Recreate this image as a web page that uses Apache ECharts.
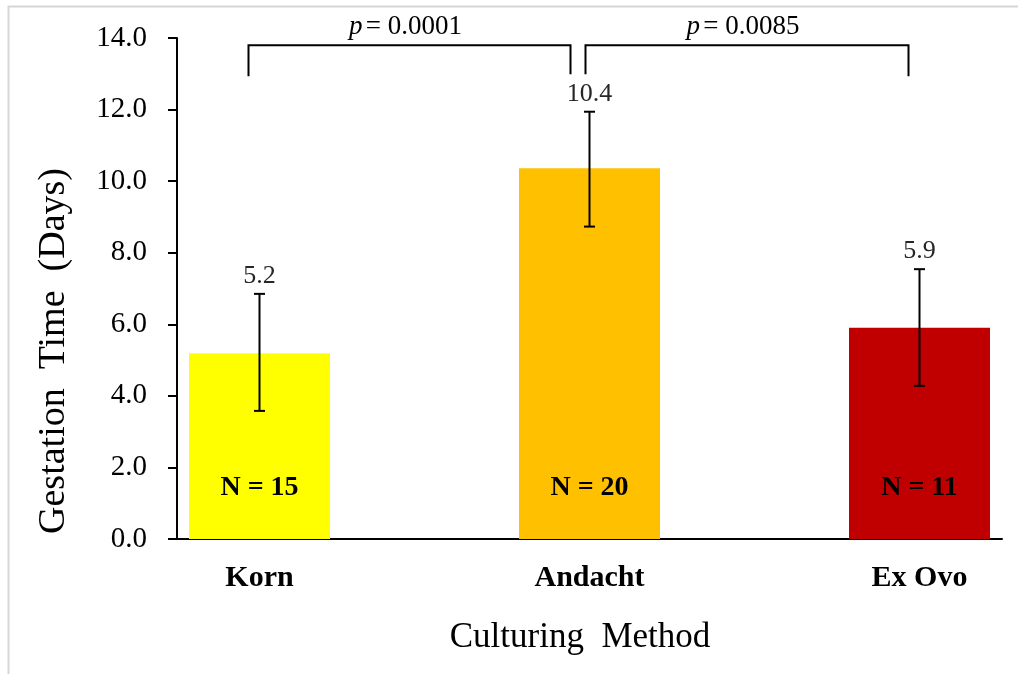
<!DOCTYPE html>
<html><head><meta charset="utf-8">
<script src="https://cdn.jsdelivr.net/npm/echarts@6/dist/echarts.min.js"></script>
<style>html,body{margin:0;padding:0;background:#fff}#c{width:1018px;height:674px}</style>
</head><body><div id="c"></div>
<script>
// ---- data ----
const categories = ['Korn', 'Andacht', 'Ex Ovo'];
const meanValues = [5.19, 10.36, 5.9];
const errorLow = [3.58, 8.73, 4.28];
const errorHigh = [6.85, 11.94, 7.54];
const sampleSizes = [15, 20, 11];
const comparisons = [[0, 1], [1, 2]];
const pValues = ['0.0001', '0.0085'];
const yMin = 0, yMax = 14, yStep = 2;

// ---- styling ----
const barColors = ['#FFFF00', '#FFC000', '#C00000'];
const FONT = '"Liberation Serif", "Times New Roman", serif';
const bracketLevel = 13.8;
const bracketInset = [[-11, -19], [-4, -11]];
const bracketDrop = [[31, 29], [29, 31]];

const chart = echarts.init(document.getElementById('c'), null, {renderer: 'canvas'});

const option = {
  backgroundColor: '#fff',
  animation: false,
  grid: {left: 177, top: 38, width: 825, height: 501, containLabel: false},
  xAxis: {
    type: 'value', min: -0.25, max: 2.25,
    axisLine: {show: true, onZero: false, lineStyle: {color: '#000', width: 2}},
    axisTick: {show: false},
    splitLine: {show: false},
    axisLabel: {
      show: true,
      customValues: categories.map((c, i) => i),
      formatter: v => categories[Math.round(v)] || '',
      fontFamily: FONT, fontSize: 30, fontWeight: 'bold', color: '#000', margin: 24
    }
  },
  yAxis: {
    type: 'value', min: yMin, max: yMax, interval: yStep,
    axisLine: {show: true, onZero: false, lineStyle: {color: '#000', width: 2}},
    axisTick: {show: true, length: 9, lineStyle: {color: '#000', width: 2}},
    splitLine: {show: false},
    axisLabel: {
      formatter: v => v.toFixed(1),
      fontFamily: FONT, fontSize: 29, color: '#000', margin: 30
    }
  },
  graphic: [
    {type: 'rect', shape: {x: 8.5, y: 6.5, width: 1200, height: 1000}, style: {fill: null, stroke: '#d6d6d6', lineWidth: 2}, z: -10, silent: true},
    {type: 'text', x: 580, y: 638, style: {text: 'Culturing  Method', font: '35px ' + FONT, fill: '#000', align: 'center', verticalAlign: 'middle'}},
    {type: 'text', x: 54, y: 351, rotation: Math.PI / 2, style: {text: 'Gestation  Time  (Days)', font: '38px ' + FONT, fill: '#000', align: 'center', verticalAlign: 'middle'}}
  ],
  series: [
    {
      type: 'bar',
      barWidth: 141,
      data: meanValues.map((v, i) => ({value: [i, v], itemStyle: {color: barColors[i]}})),
      label: {
        show: true, position: 'insideBottom', distance: 37,
        formatter: p => 'N = ' + sampleSizes[p.dataIndex],
        fontFamily: FONT, fontSize: 28, fontWeight: 'bold', color: '#000'
      },
      z: 2
    },
    {
      type: 'custom',
      data: categories.map((c, i) => [i, errorLow[i], errorHigh[i], meanValues[i]]),
      encode: {x: 0, y: [1, 2]},
      z: 5,
      renderItem: (params, api) => {
        const i = api.value(0);
        const lo = api.coord([i, api.value(1)]);
        const hi = api.coord([i, api.value(2)]);
        const cap = 5.5;
        const ls = {stroke: '#000', lineWidth: 2};
        return {
          type: 'group',
          children: [
            {type: 'line', shape: {x1: hi[0], y1: hi[1], x2: lo[0], y2: lo[1]}, style: ls},
            {type: 'line', shape: {x1: hi[0] - cap, y1: hi[1], x2: hi[0] + cap, y2: hi[1]}, style: ls},
            {type: 'line', shape: {x1: lo[0] - cap, y1: lo[1], x2: lo[0] + cap, y2: lo[1]}, style: ls},
            {type: 'text', x: hi[0], y: hi[1] - 18,
             style: {text: api.value(3).toFixed(1), font: '26px ' + FONT, fill: '#262626', align: 'center', verticalAlign: 'middle'}}
          ]
        };
      }
    },
    {
      type: 'custom',
      data: comparisons.map((c, k) => [c[0], c[1], k]),
      encode: {x: [0, 1]},
      z: 5,
      renderItem: (params, api) => {
        const k = api.value(2);
        const a = api.coord([api.value(0), bracketLevel]);
        const b = api.coord([api.value(1), bracketLevel]);
        const x1 = a[0] + bracketInset[k][0];
        const x2 = b[0] + bracketInset[k][1];
        const y = a[1];
        return {
          type: 'group',
          children: [
            {type: 'polyline', shape: {points: [[x1, y + bracketDrop[k][0]], [x1, y], [x2, y], [x2, y + bracketDrop[k][1]]]},
             style: {stroke: '#000', lineWidth: 2, fill: null}},
            {type: 'text', x: (x1 + x2) / 2 - 4, y: y - 18,
             style: {
               text: '{i|p} {n|= ' + pValues[k] + '}',
               rich: {
                 i: {fontFamily: FONT, fontSize: 27, fontStyle: 'italic', fill: '#000'},
                 n: {fontFamily: FONT, fontSize: 27, fill: '#000'}
               },
               align: 'center', verticalAlign: 'middle'
             }}
          ]
        };
      }
    }
  ]
};
chart.setOption(option);
</script>
</body></html>
